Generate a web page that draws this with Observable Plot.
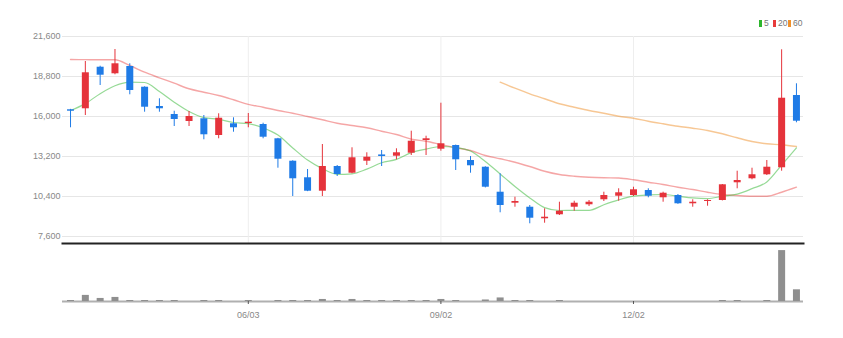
<!DOCTYPE html>
<html>
<head>
<meta charset="utf-8">
<script src="https://cdn.jsdelivr.net/npm/d3@7"></script>
<script src="https://cdn.jsdelivr.net/npm/@observablehq/plot@0.6"></script>
<style>
  body { margin: 0; background: #fff; }
  #wrap { position: relative; width: 843px; height: 338px; font-family: "Liberation Sans Narrow", "Liberation Sans", sans-serif; }
  #price { position: absolute; left: 0; top: 0; }
  #volume { position: absolute; left: 0; top: 244px; }
  .leg { position: absolute; top: 18px; font-size: 8.5px; color: #777; line-height: 10px; }
  .sw { display: inline-block; width: 3px; height: 7px; margin-right: 2px; vertical-align: -1px; }
</style>
</head>
<body>
<div id="wrap">
  <div id="legend"></div>
  <div id="price"></div>
  <div id="volume"></div>
</div>
<script>
// ---- data (weekly candles) ----
const dates = [
  "2024-03-11","2024-03-18","2024-03-25","2024-04-01","2024-04-08","2024-04-15","2024-04-22","2024-04-29",
  "2024-05-06","2024-05-13","2024-05-20","2024-05-27","2024-06-03","2024-06-10","2024-06-17","2024-06-24",
  "2024-07-01","2024-07-08","2024-07-15","2024-07-22","2024-07-29","2024-08-05","2024-08-12","2024-08-19",
  "2024-08-26","2024-09-02","2024-09-09","2024-09-16","2024-09-23","2024-09-30","2024-10-07","2024-10-14",
  "2024-10-21","2024-10-28","2024-11-04","2024-11-11","2024-11-18","2024-11-25","2024-12-02","2024-12-09",
  "2024-12-16","2024-12-23","2024-12-30","2025-01-06","2025-01-13","2025-01-20","2025-01-27","2025-02-03",
  "2025-02-10","2025-02-17"
];
const open  = [16470,16540,19450,18990,19500,18050,16700,16140,15650,15840,14670,15490,15510,15440,14440,12870,
               11710,10770,12500,12030,12870,13310,13220,13430,14320,13710,13970,12920,12450,10700,9930,9650,
               8840,9120,9650,9820,10170,10420,10470,10820,10310,10470,9890,10050,10120,11360,11640,11920,12410,17470];
const high  = [16500,19850,19520,20690,19690,18080,17240,16370,16350,16070,16190,15910,16210,15530,14470,12900,
               12290,14040,12570,13810,13460,13620,13740,14970,14620,16930,14000,13200,12480,11990,10350,9770,
               9540,10000,10070,10120,10700,10940,11050,10940,10700,10540,10170,10170,11240,12170,12380,12920,20670,18290];
const low   = [15210,16070,18170,18920,17520,16300,16300,15300,15300,14370,14440,14900,15210,14440,12380,10400,
               10740,10400,11800,11990,12570,12500,12970,13270,13270,13570,12220,12030,11000,9260,9650,8490,
               8530,9070,9370,9700,10050,10070,10400,10310,10000,9850,9650,9720,10090,10940,11570,11870,12170,15560];
const close = [16370,19060,18890,19690,17820,16650,16540,15790,16000,14720,15880,15210,15600,14550,13010,11640,
               10770,12500,11940,13110,13150,13200,13460,14270,14440,14090,12970,12550,11050,9770,10050,8880,
               8950,9370,9930,10000,10470,10660,10870,10420,10630,9890,10000,10120,11220,11520,11920,12450,17280,15670];
const ma5   = [16420,16900,17600,18150,18400,18380,17750,17000,16350,15920,15800,15580,15500,15200,14700,13800,
               12950,12350,11950,11990,12320,12760,13000,13470,13720,13900,13830,13580,12850,11980,11100,10300,
               9620,9420,9430,9430,9820,10160,10420,10510,10540,10420,10300,10250,10420,10570,10950,11420,12600,13800];
const ma20  = [19990,19980,19970,19970,19570,19100,18710,18330,17940,17700,17470,17170,16850,16650,16420,16230,
               16000,15770,15530,15370,15210,14970,14740,14420,14270,14040,13810,13620,13270,13040,12800,12500,
               12170,11940,11820,11750,11710,11690,11570,11400,11240,11050,10890,10700,10540,10470,10420,10420,10700,11050];
const ma60  = [null,null,null,null,null,null,null,null,null,null,null,null,null,null,null,null,
               null,null,null,null,null,null,null,null,null,null,null,null,null,18400,17980,17590,
               17240,16890,16650,16420,16230,16020,15880,15670,15490,15320,15180,15020,14790,14510,14250,14090,14020,13900];
const volume = [2,12,6,8,2,2,2,2,0,2,2,0,2,0,2,2,
                2,4,2,4,2,2,2,2,2,4,2,0,3,7,2,2,
                0,2,0,0,0,0,0,0,0,0,0,0,2,2,0,2,100,23];

const yTicks = [7600, 10400, 13200, 16000, 18800, 21600];
const xTickDates = ["2024-06-03", "2024-09-02", "2024-12-02"];
const xTickLabels = ["06/03", "09/02", "12/02"];
const legendNames = ["5", "20", "60"];
const legendColors = ["#2db52d", "#e83a3a", "#f0902a"];

const RED = "#e5333b", BLUE = "#1f7be6";

// ---- build table ----
const parse = d3.utcParse("%Y-%m-%d");
const data = dates.map((d, i) => ({
  date: parse(d), open: open[i], high: high[i], low: low[i], close: close[i],
  ma5: ma5[i], ma20: ma20[i], ma60: ma60[i], vol: volume[i], up: close[i] >= open[i]
}));
const upData = data.filter(d => d.up);
const downData = data.filter(d => !d.up);
const tickDates = xTickDates.map(parse);
const labelByTime = new Map(tickDates.map((d, i) => [+d, xTickLabels[i]]));
const xDomain = [d3.utcHour.offset(data[0].date, -91), d3.utcHour.offset(data[data.length - 1].date, 80)];

const font = "'Liberation Sans Narrow', 'Liberation Sans', sans-serif";

// ---- price panel ----
const price = Plot.plot({
  width: 843, height: 244,
  marginLeft: 62, marginRight: 40, marginTop: 36, marginBottom: 1,
  x: { type: "utc", domain: xDomain, axis: null },
  y: { domain: [7110, 21600] },
  style: { fontFamily: font, fontSize: "9px", color: "#888", background: "transparent", overflow: "visible" },
  marks: [
    Plot.gridY(yTicks, { stroke: "#e6e6e6", strokeOpacity: 1 }),
    Plot.gridX(tickDates, { stroke: "#eeeeee", strokeOpacity: 1 }),
    Plot.axisY(yTicks, { tickSize: 0, tickPadding: 2, tickFormat: d3.format(","), label: null, fill: "#888" }),
    Plot.lineY(data, { x: "date", y: "ma60", stroke: legendColors[2], strokeOpacity: 0.5, strokeWidth: 1.4, curve: "monotone-x" }),
    Plot.lineY(data, { x: "date", y: "ma20", stroke: legendColors[1], strokeOpacity: 0.45, strokeWidth: 1.4, curve: "monotone-x" }),
    Plot.lineY(data, { x: "date", y: "ma5", stroke: legendColors[0], strokeOpacity: 0.5, strokeWidth: 1.2, curve: "monotone-x" }),
    Plot.ruleX(upData, { x: "date", y1: "low", y2: "high", stroke: RED, strokeWidth: 1 }),
    Plot.ruleX(downData, { x: "date", y1: "low", y2: "high", stroke: BLUE, strokeWidth: 1 }),
    Plot.ruleX(upData, { x: "date", y1: "open", y2: "close", stroke: RED, strokeWidth: 7 }),
    Plot.ruleX(downData, { x: "date", y1: "open", y2: "close", stroke: BLUE, strokeWidth: 7 }),
    Plot.frame({ anchor: "bottom", stroke: "#222", strokeWidth: 2 })
  ]
});
document.getElementById("price").appendChild(price);

// ---- volume panel ----
const vol = Plot.plot({
  width: 843, height: 94,
  marginLeft: 62, marginRight: 40, marginTop: 1, marginBottom: 37,
  x: { type: "utc", domain: xDomain },
  y: { domain: [0, 110], axis: null },
  style: { fontFamily: font, fontSize: "9px", color: "#888", background: "transparent", overflow: "visible" },
  marks: [
    Plot.ruleY([0], { stroke: "#b0b0b0", strokeWidth: 2 }),
    Plot.ruleX(data.filter(d => d.vol > 0), { x: "date", y1: 0, y2: "vol", stroke: "#8f8f8f", strokeWidth: 7 }),
    Plot.axisX(tickDates, { tickSize: 3, tickPadding: 7, stroke: "#555", fill: "#888", label: null, tickFormat: d => labelByTime.get(+d) })
  ]
});
document.getElementById("volume").appendChild(vol);

// ---- legend ----
const legend = document.getElementById("legend");
const legendLeft = [759, 773, 788];
legendNames.forEach((name, i) => {
  const item = document.createElement("div");
  item.className = "leg";
  item.style.left = legendLeft[i] + "px";
  item.innerHTML = `<span class="sw" style="background:${legendColors[i]}"></span>${name}`;
  legend.appendChild(item);
});
</script>
</body>
</html>
